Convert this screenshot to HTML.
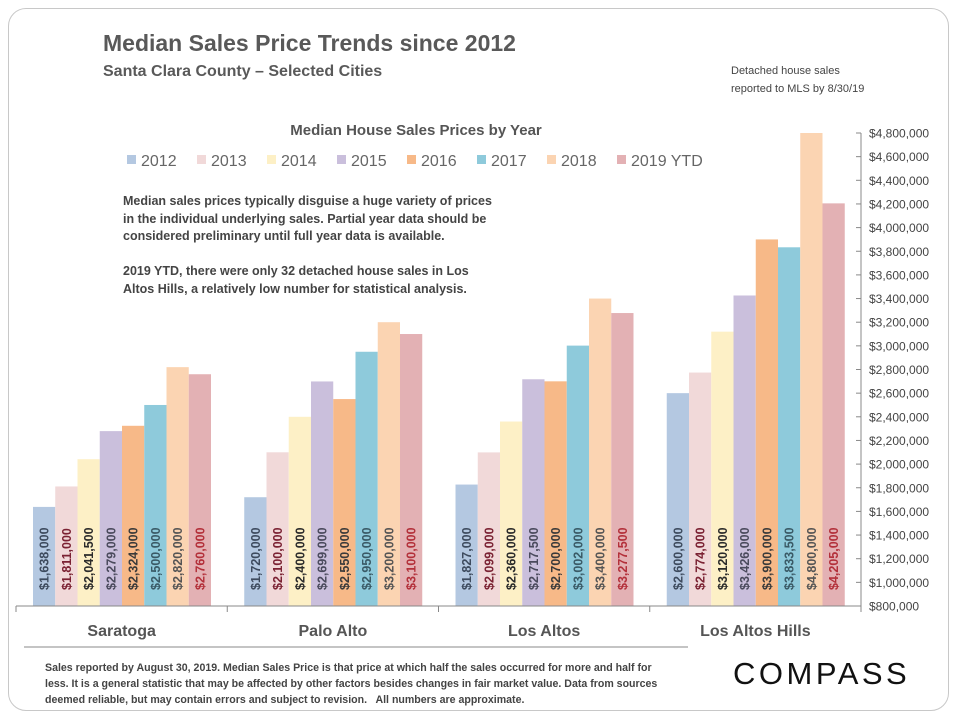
<!DOCTYPE html>
<html><head><meta charset="utf-8">
<style>
body{margin:0;width:960px;height:720px;background:#fff;font-family:"Liberation Sans",sans-serif;overflow:hidden}
.card{position:absolute;left:8px;top:8px;width:941px;height:703px;border:1px solid #c8c8c8;border-radius:18px;box-sizing:border-box}
.t{position:absolute;white-space:nowrap;color:#595959;font-weight:bold}
</style></head><body>
<div class="card"></div>
<div class="t" style="left:103px;top:30px;font-size:23px">Median Sales Price Trends since 2012</div>
<div class="t" style="left:103px;top:63px;font-size:16px">Santa Clara County – Selected Cities</div>
<div class="t" style="left:731px;top:62px;font-size:11px;font-weight:normal;color:#444;line-height:18px">Detached house sales<br>reported to MLS by 8/30/19</div>
<div class="t" style="left:123px;top:193px;font-size:12.5px;line-height:17.5px;color:#444">Median sales prices typically disguise a huge variety of prices<br>in the individual underlying sales. Partial year data should be<br>considered preliminary until full year data is available.<br><br>2019 YTD, there were only 32 detached house sales in Los<br>Altos Hills, a relatively low number for statistical analysis.</div>
<div class="t" style="left:45px;top:660px;font-size:10.6px;line-height:16px;color:#444">Sales reported by August 30, 2019. Median Sales Price is that price at which half the sales occurred for more and half for<br>less. It is a general statistic that may be affected by other factors besides changes in fair market value. Data from sources<br>deemed reliable, but may contain errors and subject to revision.&nbsp;&nbsp; All numbers are approximate.</div>
<div class="t" style="left:733px;top:656px;font-size:31px;font-weight:normal;color:#111;letter-spacing:3.5px">COMPASS</div>
<svg id="chart" width="960" height="720" style="position:absolute;left:0;top:0"></svg>
<script>
const categories=["Saratoga","Palo Alto","Los Altos","Los Altos Hills"];
const years=["2012","2013","2014","2015","2016","2017","2018","2019 YTD"];
const v2012=[1638000,1720000,1827000,2600000];
const v2013=[1811000,2100000,2099000,2774000];
const v2014=[2041500,2400000,2360000,3120000];
const v2015=[2279000,2699000,2717500,3426000];
const v2016=[2324000,2550000,2700000,3900000];
const v2017=[2500000,2950000,3002000,3833500];
const v2018=[2820000,3200000,3400000,4800000];
const v2019=[2760000,3100000,3277500,4205000];
const ticks=[800000,1000000,1200000,1400000,1600000,1800000,2000000,2200000,2400000,2600000,2800000,3000000,3200000,3400000,3600000,3800000,4000000,4200000,4400000,4600000,4800000];
const series=[v2012,v2013,v2014,v2015,v2016,v2017,v2018,v2019];
const fills=["#b4c8e1","#f1d9d9","#fdf0c6","#cabfdc","#f7b988","#8ecadb","#fbd4b2","#e3b1b4"];
const lblCol=["#3e4b5e","#7b2233","#2b2b2b","#4a4a5c","#3a3a3a","#3a5a66","#555555","#b3303a"];
const svg=document.getElementById('chart');const NS="http://www.w3.org/2000/svg";
const y0=606,y1=133,vmin=800000,vmax=4800000;
const y=v=>y0-(v-vmin)/(vmax-vmin)*(y0-y1);
const left=16,gw=211.25,off=17,bw=22.25;
const x=(g,s)=>left+g*gw+off+s*bw;
function el(t,a){const e=document.createElementNS(NS,t);for(const k in a)e.setAttribute(k,a[k]);svg.appendChild(e);return e;}
const fmt=v=>"$"+v.toLocaleString("en-US");
series.forEach((arr,s)=>arr.forEach((v,g)=>{
 const r=el('rect',{x:x(g,s),y:y(v),width:bw,height:y0-y(v),fill:fills[s]});
 
 
 const cx=x(g,s)+bw/2+4.5;
 const tx=el('text',{x:0,y:0,transform:`translate(${cx},590) rotate(-90)`,'font-size':12.5,'font-weight':'bold',fill:lblCol[s],'font-family':'Liberation Sans, sans-serif'});
 tx.textContent=fmt(v);
 
 
}));
el('line',{x1:left,y1:y0,x2:861,y2:y0,stroke:'#888'});
for(let g=0;g<=4;g++)el('line',{x1:left+g*gw,y1:y0,x2:left+g*gw,y2:y0+6,stroke:'#888'});
el('line',{x1:861,y1:y1,x2:861,y2:y0,stroke:'#888'});
ticks.forEach(t=>{
 el('line',{x1:856,y1:y(t),x2:861,y2:y(t),stroke:'#888'});
 const tx=el('text',{x:869,y:y(t)+4.5,'font-size':12,fill:'#444','font-family':'Liberation Sans, sans-serif'});
 tx.textContent=fmt(t);
 
 
});
categories.forEach((c,g)=>{
 const tx=el('text',{x:left+g*gw+gw/2,y:636,'text-anchor':'middle','font-size':16,'font-weight':'bold',fill:'#555','font-family':'Liberation Sans, sans-serif'});
 tx.textContent=c;
 
 
});
el('line',{x1:24,y1:647,x2:688,y2:647,stroke:'#888'});
const ct=el('text',{x:416,y:135,'text-anchor':'middle','font-size':15,'font-weight':'bold',fill:'#555','font-family':'Liberation Sans, sans-serif'});
ct.textContent="Median House Sales Prices by Year";


let lx=127;const lw=[70,70,70,70,70,70,70,90];
years.forEach((yr,s)=>{
 el('rect',{x:lx,y:155,width:9,height:9,fill:fills[s]});
 const tx=el('text',{x:lx+14,y:166,'font-size':16,fill:'#666','font-family':'Liberation Sans, sans-serif'});
 tx.textContent=yr;
 
 
 lx+=lw[s];
});
</script>
</body></html>
